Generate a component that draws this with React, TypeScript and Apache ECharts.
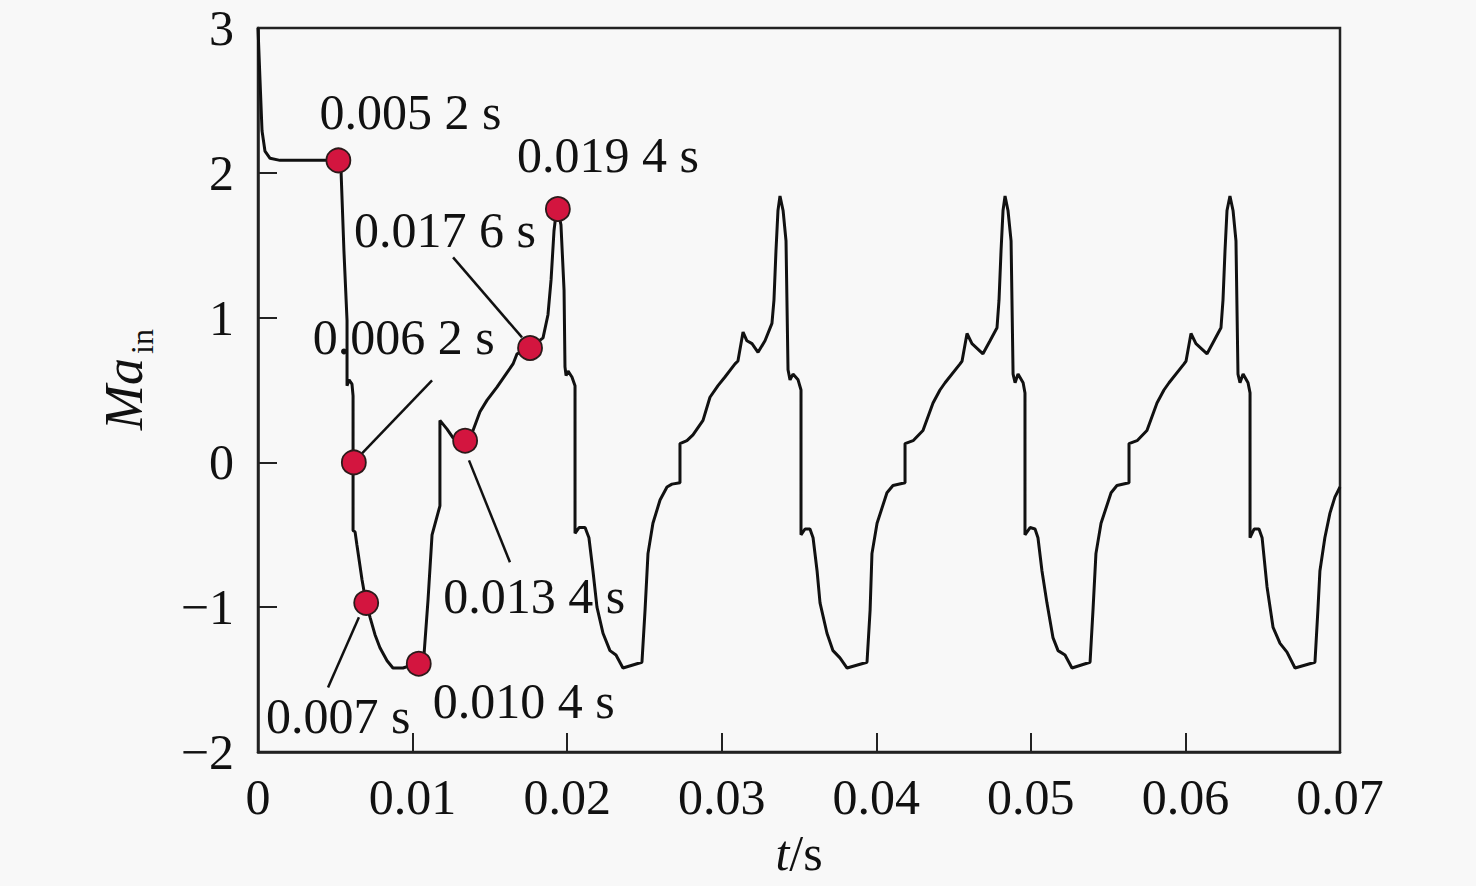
import React, { useEffect, useRef } from "react";
import * as echarts from "echarts";

// Ma_in versus time: [t (s), Ma_in]
const startupSegment: [number, number][] = [
  [0, 3.0], [0.00013, 2.64], [0.00026, 2.29], [0.00045, 2.15], [0.00078, 2.1],
  [0.00142, 2.086], [0.00518, 2.086], [0.00537, 2.02], [0.00556, 1.46], [0.00576, 0.98],
  [0.00576, 0.53], [0.00589, 0.57], [0.00608, 0.54], [0.00615, 0.46], [0.00615, 0.0],
  [0.00615, -0.47], [0.00628, -0.48], [0.0064, -0.57], [0.00673, -0.81], [0.00699, -0.97],
  [0.00725, -1.07], [0.00757, -1.19], [0.00789, -1.28], [0.00835, -1.37], [0.00873, -1.42],
  [0.00938, -1.42], [0.00996, -1.4], [0.01035, -1.39], [0.01074, -1.33], [0.011, -0.95],
  [0.01126, -0.5], [0.01177, -0.3], [0.01177, 0.29], [0.01223, 0.23], [0.01262, 0.17],
  [0.01333, 0.15], [0.01391, 0.22], [0.01436, 0.35], [0.01482, 0.43], [0.01546, 0.52],
  [0.01611, 0.62], [0.0165, 0.68], [0.01676, 0.75], [0.0176, 0.79], [0.01844, 0.86],
  [0.01876, 1.02], [0.01896, 1.26], [0.01915, 1.6], [0.01934, 1.77], [0.0196, 1.64],
  [0.0198, 1.19], [0.01986, 0.66], [0.01993, 0.6], [0.02006, 0.63], [0.02031, 0.59],
  [0.02051, 0.53],
];

const cycleOne: [number, number][] = [
  [0.02051, -0.49], [0.02077, -0.45], [0.02116, -0.45], [0.02141, -0.52], [0.02167, -0.75],
  [0.02193, -1.0], [0.02232, -1.18], [0.02277, -1.3], [0.02316, -1.33], [0.02361, -1.42],
  [0.02484, -1.38], [0.02504, -1.02], [0.02523, -0.63], [0.02555, -0.42], [0.02601, -0.26],
  [0.02646, -0.17], [0.02678, -0.15], [0.0273, -0.14], [0.0273, 0.13], [0.02775, 0.15],
  [0.02814, 0.19], [0.02879, 0.29], [0.02924, 0.45], [0.02976, 0.53], [0.03021, 0.59],
  [0.03086, 0.68], [0.03105, 0.7], [0.03138, 0.9], [0.03163, 0.84], [0.03196, 0.82],
  [0.03235, 0.76], [0.0328, 0.84], [0.03325, 0.96], [0.03338, 1.12], [0.03351, 1.46],
  [0.03364, 1.74], [0.03377, 1.84], [0.03397, 1.74], [0.03416, 1.53], [0.03429, 0.64],
  [0.03442, 0.57], [0.03461, 0.61], [0.03494, 0.57], [0.03513, 0.5],
];

const cycleTwo: [number, number][] = [
  [0.03513, -0.5], [0.03539, -0.46], [0.03571, -0.46], [0.03591, -0.52], [0.03617, -0.75],
  [0.03636, -0.97], [0.03681, -1.18], [0.0372, -1.3], [0.03765, -1.35], [0.03811, -1.42],
  [0.0394, -1.38], [0.0396, -1.02], [0.03972, -0.63], [0.04005, -0.42], [0.04069, -0.21],
  [0.04108, -0.16], [0.04186, -0.14], [0.04186, 0.13], [0.04238, 0.15], [0.04302, 0.22],
  [0.04367, 0.41], [0.04412, 0.5], [0.04445, 0.55], [0.04542, 0.68], [0.04555, 0.7],
  [0.04587, 0.89], [0.04619, 0.82], [0.0469, 0.75], [0.04736, 0.84], [0.04781, 0.93],
  [0.04794, 1.12], [0.04807, 1.46], [0.0482, 1.74], [0.04833, 1.84], [0.04852, 1.74],
  [0.04872, 1.53], [0.04885, 0.61], [0.04898, 0.55], [0.04917, 0.61], [0.0495, 0.55],
  [0.04962, 0.48],
];

const cycleThree: [number, number][] = [
  [0.04962, -0.5], [0.04995, -0.45], [0.05027, -0.46], [0.05046, -0.52], [0.05072, -0.75],
  [0.05104, -0.97], [0.05143, -1.21], [0.05176, -1.3], [0.05221, -1.33], [0.05266, -1.42],
  [0.05383, -1.38], [0.05402, -1.02], [0.05421, -0.63], [0.05454, -0.42], [0.05519, -0.21],
  [0.05557, -0.16], [0.05635, -0.14], [0.05635, 0.13], [0.05687, 0.15], [0.05751, 0.22],
  [0.05816, 0.41], [0.05861, 0.5], [0.05894, 0.55], [0.05991, 0.68], [0.06004, 0.7],
  [0.06036, 0.89], [0.06068, 0.82], [0.0614, 0.75], [0.06185, 0.84], [0.0623, 0.93],
  [0.06243, 1.12], [0.06256, 1.46], [0.06269, 1.74], [0.06288, 1.84], [0.06308, 1.74],
  [0.06327, 1.53], [0.0634, 0.61], [0.06353, 0.55], [0.06373, 0.61], [0.06405, 0.55],
  [0.06418, 0.48],
];

const cycleFour: [number, number][] = [
  [0.06418, -0.52], [0.06444, -0.46], [0.06476, -0.46], [0.06496, -0.52], [0.06528, -0.86],
  [0.06567, -1.14], [0.06612, -1.25], [0.06657, -1.31], [0.06709, -1.42], [0.06838, -1.38],
  [0.06857, -1.02], [0.0687, -0.75], [0.06902, -0.52], [0.06935, -0.35], [0.06967, -0.24],
  [0.07, -0.17],
];

// marked instants
const markTimes = [0.0052, 0.0062, 0.007, 0.0104, 0.0134, 0.0176, 0.0194];
const markValues = [2.086, 0.0, -0.97, -1.39, 0.15, 0.79, 1.75];
const markLabels = ["0.005 2 s", "0.006 2 s", "0.007 s", "0.010 4 s", "0.013 4 s", "0.017 6 s", "0.019 4 s"];
const labelOffsets: [number, number][] = [
  [72, -48], [50, -125], [-28, 113], [105, 37], [69, 155], [-85, -118], [50, -54],
];
// leader lines (data coordinates of both ends)
const leaders: [number, number][][] = [
  [[0.00673, 0.062], [0.01126, 0.566]],
  [[0.00653, -1.07], [0.00453, -1.554]],
  [[0.01365, 0.014], [0.0163, -0.69]],
  [[0.01262, 1.416], [0.01708, 0.863]],
];

const xTicks = { min: 0, max: 0.07, interval: 0.01 };
const yTicks = { min: -2, max: 3, interval: 1 };

const FONT = "'Liberation Serif', 'Times New Roman', serif";
const BG = "#f8f8f8";

export default function App() {
  const ref = useRef<HTMLDivElement>(null);
  useEffect(() => {
    document.body.style.background = BG;
    const chart = echarts.init(ref.current!, undefined, { renderer: "svg" });
    const curve = [...startupSegment, ...cycleOne, ...cycleTwo, ...cycleThree, ...cycleFour];
    const axisLine = { show: true, onZero: false, lineStyle: { color: "#222", width: 2.5 } };
    const option: any = {
      animation: false,
      backgroundColor: BG,
      grid: {
        left: 258, right: 136, top: 28, bottom: 134,
        show: true, borderColor: "#222", borderWidth: 2.5, backgroundColor: "transparent",
      },
      xAxis: {
        type: "value", ...xTicks,
        axisLine, splitLine: { show: false },
        axisTick: { show: true, inside: true, length: 19, lineStyle: { color: "#222", width: 2 } },
        axisLabel: {
          margin: 20, fontFamily: FONT, fontSize: 50, color: "#111",
          formatter: (v: number) => (v === 0 ? "0" : v.toFixed(2)),
        },
        name: "{i|t}/s", nameLocation: "middle", nameGap: 76,
        nameTextStyle: {
          fontFamily: FONT, fontSize: 50, color: "#111",
          rich: { i: { fontFamily: FONT, fontSize: 50, fontStyle: "italic", color: "#111" } },
        },
      },
      yAxis: {
        type: "value", ...yTicks,
        axisLine, splitLine: { show: false },
        axisTick: { show: true, inside: true, length: 19, lineStyle: { color: "#222", width: 2 } },
        axisLabel: {
          margin: 24, fontFamily: FONT, fontSize: 50, color: "#111",
          formatter: (v: number) => (v < 0 ? "\u2212" + Math.abs(v) : String(v)),
        },
      },
      graphic: [
        {
          type: "group", x: 124, y: 394, rotation: Math.PI / 2,
          children: [
            { type: "text", x: 0, y: 0, style: { text: "Ma", fontFamily: FONT, fontSize: 54, fontStyle: "italic", fill: "#111", align: "center", verticalAlign: "middle" } },
            { type: "text", x: 40, y: 18, style: { text: "in", fontFamily: FONT, fontSize: 32, fill: "#111", align: "left", verticalAlign: "middle" } },
          ],
        },
      ],
      series: [
        {
          type: "line", data: curve, showSymbol: false, smooth: false,
          lineStyle: { color: "#111", width: 3 }, z: 2,
        },
        ...leaders.map((seg) => ({
          type: "line", data: seg, showSymbol: false,
          lineStyle: { color: "#111", width: 2.5 }, z: 3,
        })),
        {
          type: "scatter", z: 5,
          symbolSize: 24,
          itemStyle: { color: "#d3153f", borderColor: "#2b1a1a", borderWidth: 1.8, opacity: 1 },
          data: markTimes.map((t, i) => ({
            value: [t, markValues[i]],
            label: {
              show: true, formatter: markLabels[i], position: "inside",
              offset: labelOffsets[i], fontFamily: FONT, fontSize: 50, color: "#111",
            },
          })),
        },
      ],
    };
    chart.setOption(option);
    return () => chart.dispose();
  }, []);
  return (
    <div
      ref={ref}
      style={{ position: "fixed", left: 0, top: 0, width: 1476, height: 886, background: BG }}
    />
  );
}
